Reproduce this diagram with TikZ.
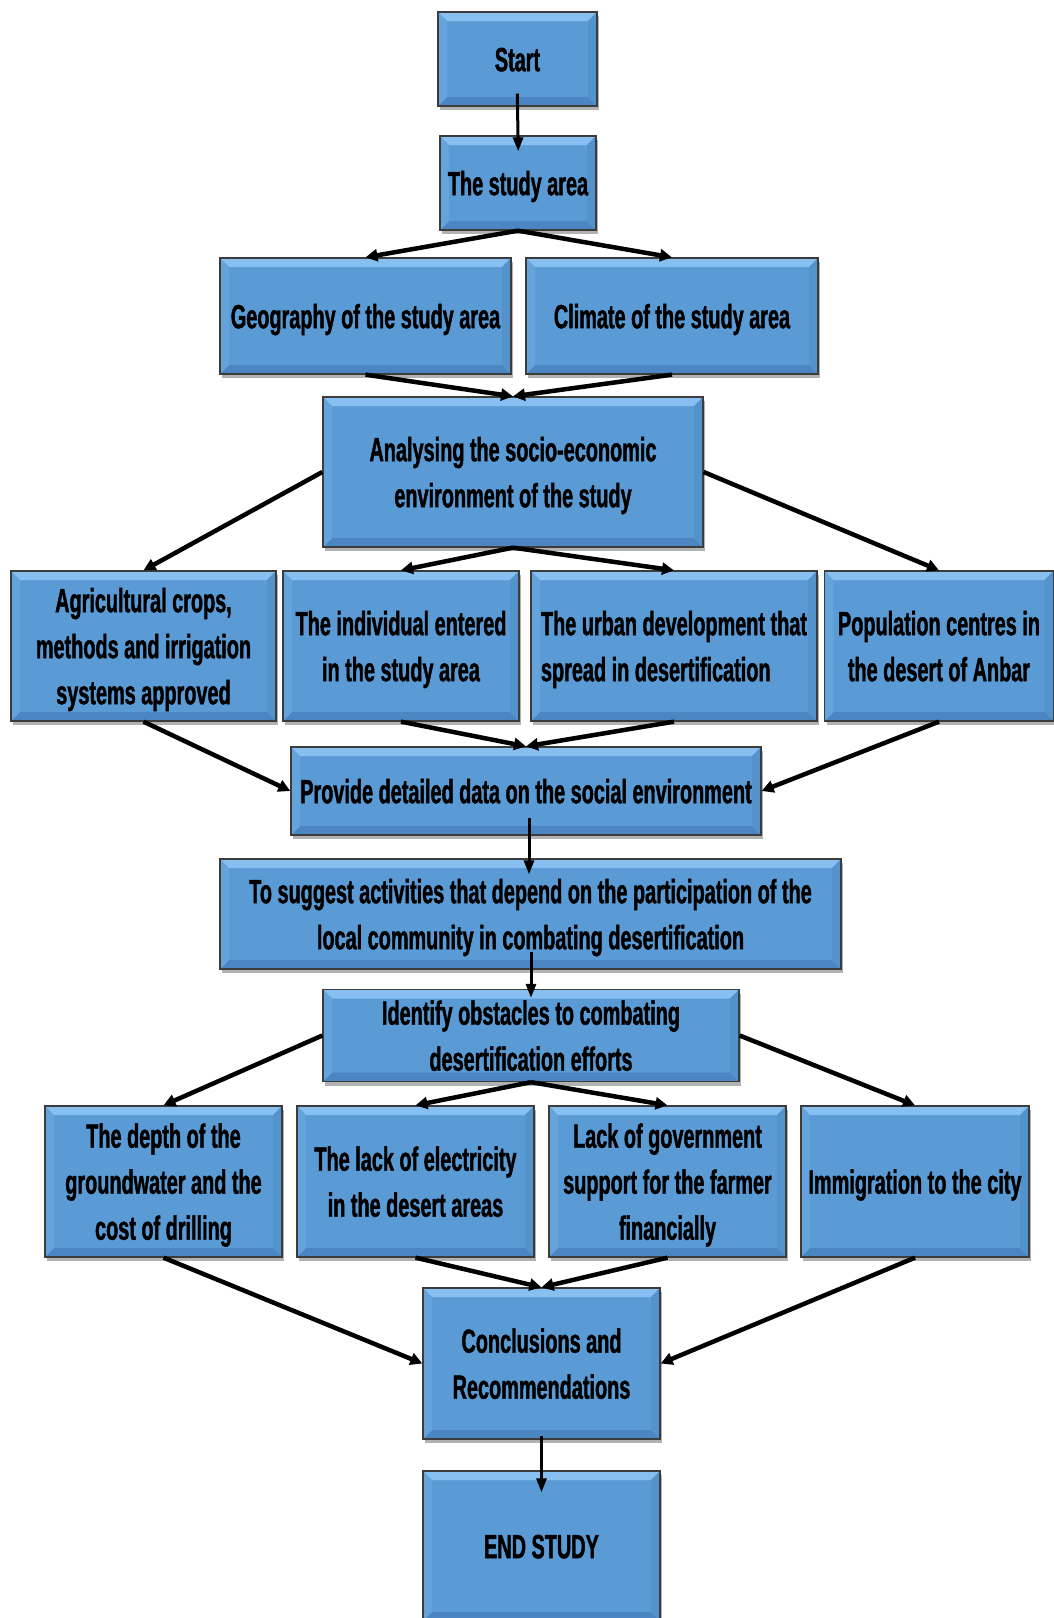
\documentclass[tikz,border=0pt]{standalone}
\usepackage{fontspec}
\setmainfont{Liberation Sans}[FakeStretch=0.593, BoldFeatures={FakeBold=1.2}]
\usetikzlibrary{shadows,arrows.meta}
\definecolor{boxfill}{RGB}{91,155,213}
\definecolor{boxtop}{RGB}{135,192,240}
\definecolor{boxleft}{RGB}{100,163,220}
\definecolor{boxright}{RGB}{84,146,204}
\definecolor{boxbot}{RGB}{76,134,194}
\definecolor{boxline}{RGB}{60,60,60}
\newcommand\tx[2][c]{\raisebox{-3pt}[\height][\depth]{\begin{tabular}{@{}#1@{}}#2\end{tabular}}}
\tikzset{
 box/.style={draw=boxline, line width=1.3pt, fill=boxfill, inner sep=0pt, align=center,
   font=\fontsize{33.5}{46}\selectfont\bfseries,
   drop shadow={shadow xshift=2pt, shadow yshift=-4pt, opacity=0.3, fill=black},
   path picture={
     \fill[boxtop] (path picture bounding box.north west) -- (path picture bounding box.north east) -- ([shift={(-9pt,-9pt)}]path picture bounding box.north east) -- ([shift={(9pt,-9pt)}]path picture bounding box.north west) -- cycle;
     \fill[boxbot] (path picture bounding box.south west) -- (path picture bounding box.south east) -- ([shift={(-9pt,9pt)}]path picture bounding box.south east) -- ([shift={(9pt,9pt)}]path picture bounding box.south west) -- cycle;
     \fill[boxleft] (path picture bounding box.north west) -- (path picture bounding box.south west) -- ([shift={(9pt,9pt)}]path picture bounding box.south west) -- ([shift={(9pt,-9pt)}]path picture bounding box.north west) -- cycle;
     \fill[boxright] (path picture bounding box.north east) -- (path picture bounding box.south east) -- ([shift={(-9pt,9pt)}]path picture bounding box.south east) -- ([shift={(-9pt,-9pt)}]path picture bounding box.north east) -- cycle;
   }},
 arr/.style={-{Triangle[length=12pt,width=12pt]}, line width=4.5pt, black},
 varr/.style={-{Triangle[length=14pt,width=10pt]}, line width=3pt, black},
}
\begin{document}
\begin{tikzpicture}[x=1pt,y=-1pt]
\fill[white] (0,0) rectangle (1054,1618);
\useasboundingbox (0,0) rectangle (1054,1618);

\node[box, minimum width=159, minimum height=94] (start) at (517.5,59) {\tx{Start}};
\node[box, minimum width=156, minimum height=94] (study) at (518,183) {\tx{The study area}};
\node[box, minimum width=291, minimum height=116] (geo) at (365.5,316) {\tx{Geography of the study area}};
\node[box, minimum width=292, minimum height=116] (clim) at (672,316) {\tx{Climate of the study area}};
\node[box, minimum width=380, minimum height=150] (anal) at (513,472) {\tx{Analysing the socio-economic\\environment of the study}};
\node[box, minimum width=265, minimum height=150] (agri) at (143.5,646) {\tx{Agricultural crops,\\methods and irrigation\\systems approved}};
\node[box, minimum width=236, minimum height=150] (indiv) at (401,646) {\tx{The individual entered\\in the study area}};
\node[box, minimum width=286, minimum height=150] (urban) at (674,646) {\tx[l]{The urban development that\\spread in desertification}};
\node[box, minimum width=229, minimum height=150] (pop) at (939,646) {\tx{Population centres in\\the desert of Anbar}};
\node[box, minimum width=470, minimum height=88] (prov) at (526,791) {\tx{Provide detailed data on the social environment}};
\node[box, minimum width=621, minimum height=110] (sugg) at (530.5,914) {\tx{To suggest activities that depend on the participation of the\\local community in combating desertification}};
\node[box, minimum width=416, minimum height=89] (iden) at (531,1035.5) {\tx{Identify obstacles to combating\\desertification efforts}};
\node[box, minimum width=237, minimum height=151] (depth) at (163.5,1181.5) {\tx{The depth of the\\groundwater and the\\cost of drilling}};
\node[box, minimum width=237, minimum height=151] (elec) at (415.5,1181.5) {\tx{The lack of electricity\\in the desert areas}};
\node[box, minimum width=237, minimum height=151] (gov) at (667.5,1181.5) {\tx{Lack of government\\support for the farmer\\financially}};
\node[box, minimum width=228, minimum height=151] (immi) at (915,1181.5) {\tx{Immigration to the city}};
\node[box, minimum width=237, minimum height=151] (concl) at (541.5,1363.5) {\tx{Conclusions and\\Recommendations}};
\node[box, minimum width=237, minimum height=150] (endn) at (541.5,1546) {\tx{END STUDY}};

% connectors
\draw[varr, shorten <=-13pt, shorten >=-16pt] (start.south) -- (study.north);
\draw[arr] (study.south) -- (geo.north);
\draw[arr] (study.south) -- (clim.north);
\draw[arr] (geo.south) -- (anal.north);
\draw[arr] (clim.south) -- (anal.north);
\draw[arr] (anal.west) -- (agri.north);
\draw[arr] (anal.south) -- (indiv.north);
\draw[arr] (anal.south) -- (urban.north);
\draw[arr] (anal.east) -- (pop.north);
\draw[arr] (agri.south) -- (prov.west);
\draw[arr] (indiv.south) -- (prov.north);
\draw[arr] (urban.south) -- (prov.north);
\draw[arr] (pop.south) -- (prov.east);
\draw[varr, shorten <=-18pt, shorten >=-16pt] ([xshift=3pt]prov.south) -- ([xshift=3pt]prov.south |- sugg.north);
\draw[varr, shorten <=-18pt, shorten >=-9pt] (iden.north |- sugg.south) -- (iden.north);
\draw[arr] (iden.west) -- (depth.north);
\draw[arr] (iden.south) -- (elec.north);
\draw[arr] (iden.south) -- (gov.north);
\draw[arr] (iden.east) -- (immi.north);
\draw[arr] (depth.south) -- (concl.west);
\draw[arr] (elec.south) -- (concl.north);
\draw[arr] (gov.south) -- (concl.north);
\draw[arr] (immi.south) -- (concl.east);
\draw[varr, shorten <=-4pt, shorten >=-22pt] (concl.south) -- (endn.north);
\end{tikzpicture}
\end{document}
